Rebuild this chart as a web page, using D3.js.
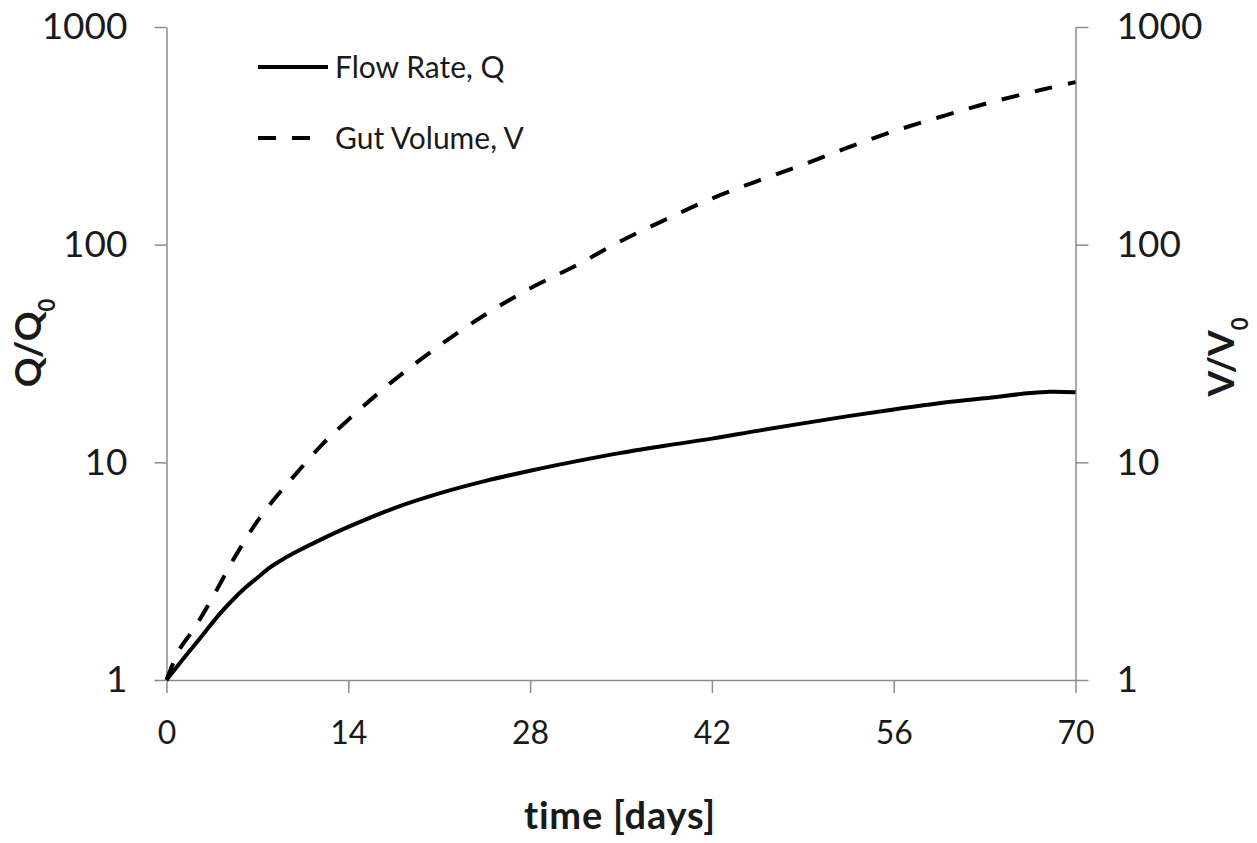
<!DOCTYPE html>
<html>
<head>
<meta charset="utf-8">
<script src="https://cdn.jsdelivr.net/npm/d3@7"></script>
<style>
  html, body { margin: 0; padding: 0; background: #fff; }
  svg { display: block; }
  text { font-family: Lato, "Open Sans", sans-serif; fill: #1a1a1a; }
</style>
</head>
<body>
<svg id="chart" width="1257" height="843"></svg>
<script>
// Time grid in days
const days = [0, 1, 2, 3, 4, 5, 6, 7, 8, 9, 10, 12, 14, 17.5, 21, 24.5, 28, 31.5, 35, 38.5, 42, 45.5, 49, 52.5, 56, 59.5, 63, 66.5, 68, 70];

// Normalised flow rate Q/Q0
const flowRate = [1, 1.19, 1.41, 1.67, 1.98, 2.3, 2.63, 2.95, 3.3, 3.6, 3.88, 4.45, 5.05, 6.15, 7.2, 8.2, 9.15, 10.1, 11.05, 11.95, 12.85, 13.95, 15.1, 16.3, 17.5, 18.7, 19.7, 20.8, 21.1, 21.0];

// Normalised gut volume V/V0
const gutVolume = [1, 1.38, 1.68, 2.1, 2.68, 3.45, 4.34, 5.37, 6.44, 7.6, 8.9, 12.1, 15.7, 23.8, 34.3, 47.5, 63, 80, 104, 131, 163, 196, 233, 280, 332, 385, 443, 500, 525, 558];

const xTicks = [0, 14, 28, 42, 56, 70];
const yTicks = [1, 10, 100, 1000];

const seriesNames = ["Flow Rate, Q", "Gut Volume, V"];

const svg = d3.select("#chart");
const margin = { left: 166.5, right: 1075.5, top: 27, bottom: 680 };
const axisColor = "#8c8c8c";
const dash = "18 16";

const x = d3.scaleLinear().domain([0, 70]).range([margin.left, margin.right]);
const yL = d3.scaleLog().domain([1, 1000]).range([margin.bottom, margin.top]);
const yR = d3.scaleLog().domain([1, 1000]).range([margin.bottom, margin.top]);

// Axes
const gx = svg.append("g").attr("transform", `translate(0,${margin.bottom})`)
  .call(d3.axisBottom(x).tickValues(xTicks).tickSize(13).tickSizeOuter(0).tickPadding(28));
const gl = svg.append("g").attr("transform", `translate(${margin.left},0)`)
  .call(d3.axisLeft(yL).tickValues(yTicks).tickFormat(d3.format("d")).tickSize(12).tickSizeOuter(0).tickPadding(27));
const gr = svg.append("g").attr("transform", `translate(${margin.right},0)`)
  .call(d3.axisRight(yR).tickValues(yTicks).tickFormat(d3.format("d")).tickSize(13).tickSizeOuter(0).tickPadding(28));

[gx, gl, gr].forEach(g => {
  g.selectAll(".domain").attr("stroke", axisColor).attr("stroke-width", 1.5);
  g.selectAll(".tick line").attr("stroke", axisColor).attr("stroke-width", 1.5);
  g.selectAll(".tick text").attr("fill", "#1a1a1a").style("font-family", "Lato, sans-serif");
});
gx.selectAll(".tick text").style("font-size", "32px");
gl.selectAll(".tick text").style("font-size", "37px");
gr.selectAll(".tick text").style("font-size", "37px");

// Curves
const lineQ = d3.line().x((d, i) => x(days[i])).y(d => yL(d)).curve(d3.curveCatmullRom.alpha(0.5));
const lineV = d3.line().x((d, i) => x(days[i])).y(d => yR(d)).curve(d3.curveCatmullRom.alpha(0.5));

svg.append("path").datum(flowRate).attr("d", lineQ)
  .attr("fill", "none").attr("stroke", "#000").attr("stroke-width", 4);
svg.append("path").datum(gutVolume).attr("d", lineV)
  .attr("fill", "none").attr("stroke", "#000").attr("stroke-width", 4)
  .attr("stroke-dasharray", dash);

// Axis titles
svg.append("text")
  .attr("x", 620).attr("y", 829)
  .attr("text-anchor", "middle").style("font-size", "38px").style("font-weight", "bold")
  .style("letter-spacing", "0.8px")
  .text("time [days]");

const lt = svg.append("text")
  .attr("transform", "translate(41,343) rotate(-90)")
  .attr("text-anchor", "middle").style("font-size", "37px").style("font-weight", "bold");
lt.append("tspan").text("Q/Q");
lt.append("tspan").attr("baseline-shift", "sub").style("font-size", "22px").text("0");

const rt = svg.append("text")
  .attr("transform", "translate(1234,357) rotate(-90)")
  .attr("text-anchor", "middle").style("font-size", "37px").style("font-weight", "bold");
rt.append("tspan").text("V/V");
rt.append("tspan").attr("baseline-shift", "sub").style("font-size", "22px").text("0");

// Legend
const legend = svg.append("g");
const legendRows = [
  { name: seriesNames[0], y: 67, dash: null },
  { name: seriesNames[1], y: 138, dash: dash }
];
legendRows.forEach(r => {
  legend.append("line").attr("x1", 258).attr("x2", r.dash ? 310 : 328)
    .attr("y1", r.y).attr("y2", r.y)
    .attr("stroke", "#000").attr("stroke-width", 4)
    .attr("stroke-dasharray", r.dash);
  legend.append("text").attr("x", 335).attr("y", r.y).attr("dy", "0.35em")
    .style("font-size", "30px").text(r.name);
});
</script>
</body>
</html>
